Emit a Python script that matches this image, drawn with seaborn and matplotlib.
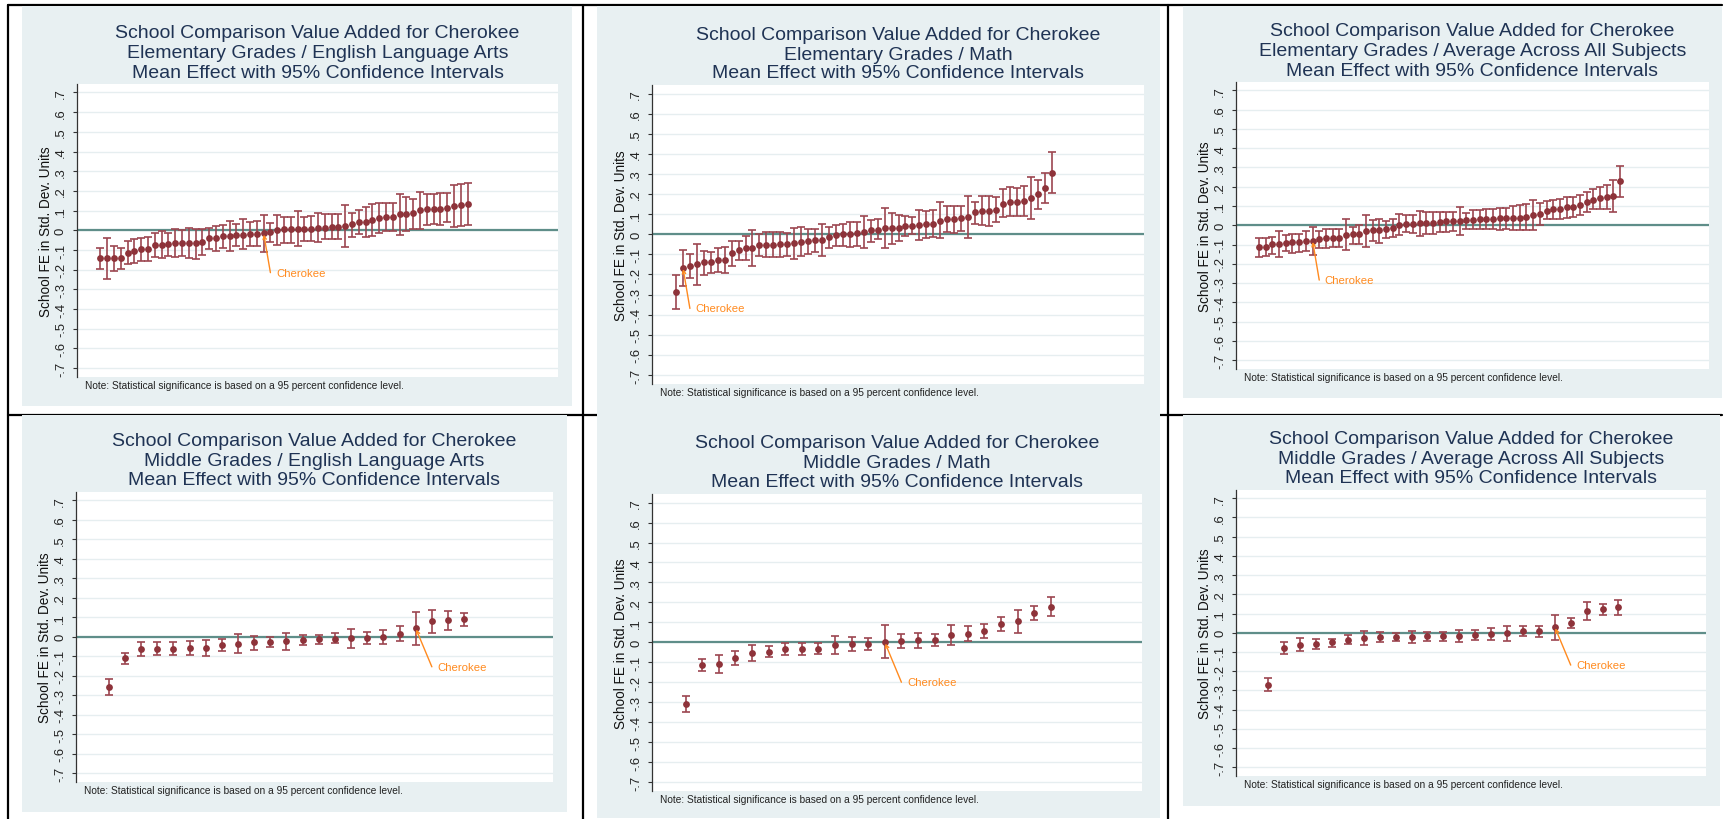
import numpy as np
import pandas as pd
import seaborn as sns
import matplotlib.pyplot as plt
from matplotlib.patches import Rectangle
from matplotlib.lines import Line2D

sns.set_theme(style='white')
plt.rcParams['font.family'] = ['Liberation Sans', 'DejaVu Sans']

# ---- data (estimate, lower CI, upper CI), schools sorted by effect ----
elem_ela_est = [-0.142, -0.142, -0.142, -0.142, -0.113, -0.105, -0.093, -0.093, -0.073, -0.073,
                -0.068, -0.063, -0.063, -0.063, -0.063, -0.059, -0.039, -0.039, -0.029, -0.029,
                -0.022, -0.022, -0.019, -0.017, -0.015, -0.008, 0.002, 0.005, 0.005, 0.008,
                0.008, 0.008, 0.014, 0.014, 0.019, 0.019, 0.022, 0.030, 0.042, 0.042,
                0.052, 0.064, 0.069, 0.069, 0.081, 0.085, 0.090, 0.103, 0.107, 0.107,
                0.107, 0.115, 0.124, 0.127, 0.132]
elem_ela_lo = [-0.198, -0.249, -0.206, -0.198, -0.173, -0.164, -0.156, -0.156, -0.134, -0.139,
               -0.130, -0.134, -0.130, -0.139, -0.144, -0.127, -0.096, -0.105, -0.088, -0.105,
               -0.080, -0.096, -0.080, -0.080, -0.108, -0.059, -0.076, -0.063, -0.063, -0.080,
               -0.054, -0.054, -0.058, -0.046, -0.042, -0.042, -0.083, -0.032, -0.020, -0.036,
               -0.029, -0.015, -0.003, -0.003, -0.022, -0.003, 0.008, 0.005, 0.027, 0.030,
               0.029, 0.042, 0.019, 0.022, 0.025]
elem_ela_hi = [-0.088, -0.037, -0.080, -0.088, -0.054, -0.046, -0.037, -0.032, -0.015, -0.003,
               -0.012, 0.008, 0.002, 0.014, 0.005, 0.008, 0.014, 0.022, 0.025, 0.047,
               0.030, 0.056, 0.042, 0.047, 0.078, 0.036, 0.076, 0.069, 0.069, 0.098,
               0.069, 0.073, 0.086, 0.081, 0.081, 0.081, 0.129, 0.086, 0.103, 0.120,
               0.132, 0.140, 0.140, 0.140, 0.183, 0.169, 0.157, 0.195, 0.186, 0.183,
               0.188, 0.188, 0.230, 0.233, 0.242]

elem_math_est = [-0.289, -0.166, -0.156, -0.148, -0.139, -0.139, -0.128, -0.128, -0.093, -0.076,
                 -0.066, -0.066, -0.053, -0.053, -0.053, -0.050, -0.050, -0.043, -0.037, -0.033,
                 -0.027, -0.027, -0.013, -0.003, 0.000, 0.000, 0.005, 0.013, 0.020, 0.023,
                 0.030, 0.030, 0.033, 0.043, 0.043, 0.047, 0.050, 0.050, 0.068, 0.075,
                 0.075, 0.080, 0.086, 0.110, 0.116, 0.116, 0.123, 0.151, 0.163, 0.163,
                 0.166, 0.181, 0.200, 0.231, 0.307]
elem_math_lo = [-0.372, -0.259, -0.219, -0.252, -0.203, -0.193, -0.186, -0.194, -0.156, -0.126,
                -0.126, -0.156, -0.110, -0.115, -0.115, -0.115, -0.106, -0.123, -0.110, -0.098,
                -0.086, -0.106, -0.070, -0.056, -0.060, -0.065, -0.056, -0.070, -0.037, -0.023,
                -0.070, -0.047, -0.032, -0.010, 0.002, -0.027, -0.020, -0.015, -0.020, 0.010,
                0.007, 0.018, -0.017, 0.051, 0.047, 0.043, 0.063, 0.085, 0.093, 0.093,
                0.090, 0.076, 0.126, 0.156, 0.206]
elem_math_hi = [-0.203, -0.076, -0.098, -0.048, -0.081, -0.090, -0.070, -0.065, -0.032, -0.032,
                -0.010, 0.023, 0.002, 0.010, 0.010, 0.010, 0.007, 0.030, 0.035, 0.027,
                0.027, 0.051, 0.038, 0.047, 0.051, 0.063, 0.063, 0.093, 0.073, 0.076,
                0.130, 0.106, 0.096, 0.093, 0.085, 0.123, 0.118, 0.121, 0.163, 0.140,
                0.140, 0.143, 0.189, 0.163, 0.189, 0.189, 0.184, 0.223, 0.234, 0.229,
                0.239, 0.284, 0.272, 0.306, 0.409]

elem_avg_est = [-0.112, -0.112, -0.098, -0.098, -0.090, -0.088, -0.088, -0.083, -0.079, -0.072,
                -0.067, -0.067, -0.064, -0.048, -0.047, -0.045, -0.029, -0.026, -0.026, -0.021,
                -0.014, 0.003, 0.007, 0.009, 0.010, 0.012, 0.012, 0.017, 0.021, 0.021,
                0.024, 0.029, 0.029, 0.031, 0.033, 0.034, 0.036, 0.038, 0.038, 0.040,
                0.045, 0.055, 0.060, 0.076, 0.083, 0.084, 0.093, 0.097, 0.105, 0.119,
                0.133, 0.140, 0.145, 0.150, 0.228]
elem_avg_lo = [-0.164, -0.159, -0.147, -0.164, -0.134, -0.141, -0.138, -0.134, -0.155, -0.117,
               -0.117, -0.112, -0.112, -0.129, -0.095, -0.095, -0.112, -0.083, -0.091, -0.066,
               -0.060, -0.052, -0.034, -0.038, -0.055, -0.043, -0.043, -0.034, -0.034, -0.031,
               -0.048, -0.017, -0.021, -0.021, -0.017, -0.021, -0.022, -0.017, -0.026, -0.026,
               -0.022, -0.026, 0.003, 0.034, 0.034, 0.031, 0.040, 0.043, 0.052, 0.069,
               0.083, 0.083, 0.083, 0.069, 0.147]
elem_avg_hi = [-0.066, -0.066, -0.060, -0.031, -0.048, -0.043, -0.043, -0.031, -0.009, -0.031,
               -0.017, -0.021, -0.017, 0.034, -0.009, 0.000, 0.052, 0.026, 0.034, 0.021,
               0.034, 0.060, 0.052, 0.052, 0.072, 0.069, 0.069, 0.069, 0.069, 0.069,
               0.095, 0.064, 0.078, 0.081, 0.083, 0.086, 0.090, 0.090, 0.100, 0.103,
               0.112, 0.133, 0.117, 0.124, 0.129, 0.138, 0.147, 0.147, 0.155, 0.172,
               0.190, 0.197, 0.207, 0.233, 0.307]

mid_ela_est = [-0.256, -0.111, -0.063, -0.062, -0.062, -0.058, -0.056, -0.041, -0.038, -0.029,
               -0.026, -0.024, -0.014, -0.012, -0.009, -0.007, -0.005, -0.003, 0.015, 0.044,
               0.082, 0.085, 0.091]
mid_ela_lo = [-0.299, -0.140, -0.097, -0.094, -0.094, -0.094, -0.096, -0.072, -0.085, -0.067,
              -0.051, -0.067, -0.043, -0.039, -0.034, -0.055, -0.038, -0.038, -0.024, -0.041,
              0.022, 0.036, 0.056]
mid_ela_hi = [-0.214, -0.085, -0.029, -0.029, -0.029, -0.021, -0.015, -0.009, 0.012, 0.005,
              0.000, 0.019, 0.010, 0.010, 0.019, 0.038, 0.027, 0.034, 0.055, 0.126,
              0.140, 0.132, 0.123]

mid_math_est = [-0.307, -0.113, -0.108, -0.077, -0.052, -0.047, -0.033, -0.033, -0.032, -0.013,
                -0.010, -0.008, 0.000, 0.008, 0.010, 0.013, 0.037, 0.043, 0.058, 0.092,
                0.105, 0.148, 0.178]
mid_math_lo = [-0.350, -0.142, -0.153, -0.112, -0.092, -0.075, -0.063, -0.062, -0.058, -0.058,
               -0.045, -0.038, -0.080, -0.027, -0.028, -0.020, -0.013, 0.005, 0.020, 0.055,
               0.047, 0.113, 0.130]
mid_math_hi = [-0.267, -0.083, -0.063, -0.045, -0.013, -0.020, -0.005, -0.005, -0.005, 0.033,
               0.025, 0.023, 0.087, 0.040, 0.045, 0.042, 0.087, 0.083, 0.093, 0.125,
               0.163, 0.182, 0.225]

mid_avg_est = [-0.269, -0.078, -0.063, -0.057, -0.050, -0.035, -0.028, -0.023, -0.023, -0.023,
               -0.017, -0.017, -0.016, -0.009, -0.007, -0.002, 0.009, 0.009, 0.030, 0.052,
               0.115, 0.122, 0.134]
mid_avg_lo = [-0.304, -0.108, -0.095, -0.082, -0.073, -0.059, -0.064, -0.050, -0.043, -0.054,
              -0.042, -0.042, -0.047, -0.035, -0.040, -0.042, -0.017, -0.021, -0.036, 0.023,
              0.066, 0.092, 0.095]
mid_avg_hi = [-0.234, -0.050, -0.026, -0.033, -0.030, -0.012, 0.009, 0.005, 0.000, 0.010,
              0.005, 0.005, 0.016, 0.017, 0.023, 0.035, 0.033, 0.038, 0.095, 0.078,
              0.158, 0.148, 0.170]

# position (1-based rank) of Cherokee and where its label sits
cherokee_rank = [25, 2, 9, 20, 13, 19]
label_anchor = [(26, -0.215), (3.0, -0.369), (10, -0.284), (21, -0.154), (14, -0.20), (20, -0.168)]

subtitles = ['Elementary Grades / English Language Arts', 'Elementary Grades / Math',
             'Elementary Grades / Average Across All Subjects',
             'Middle Grades / English Language Arts', 'Middle Grades / Math',
             'Middle Grades / Average Across All Subjects']
title_top = 'School Comparison Value Added for Cherokee'
title_bottom = 'Mean Effect with 95% Confidence Intervals'
ylabel = 'School FE in Std. Dev. Units'
note = 'Note: Statistical significance is based on a 95 percent confidence level.'

ytick_values = [-0.7, -0.6, -0.5, -0.4, -0.3, -0.2, -0.1, 0.0, 0.1, 0.2, 0.3, 0.4, 0.5, 0.6, 0.7]
ytick_labels = ['-.7', '-.6', '-.5', '-.4', '-.3', '-.2', '-.1', '0',
                '.1', '.2', '.3', '.4', '.5', '.6', '.7']

panels = [
    (elem_ela_est, elem_ela_lo, elem_ela_hi),
    (elem_math_est, elem_math_lo, elem_math_hi),
    (elem_avg_est, elem_avg_lo, elem_avg_hi),
    (mid_ela_est, mid_ela_lo, mid_ela_hi),
    (mid_math_est, mid_math_lo, mid_math_hi),
    (mid_avg_est, mid_avg_lo, mid_avg_hi),
]

# ---- layout in pixels (left, top, right, bottom) ----
W, H = 1732, 820
plot_boxes = [(77, 85, 558, 378), (652, 86, 1144, 385), (1236, 83, 1709, 370),
              (76, 493, 553, 783), (652, 495, 1142, 792), (1236, 491, 1706, 777)]
bg_boxes = [(22, 7, 572, 407), (597, 7, 1160, 420), (1183, 7, 1722, 399),
            (22, 416, 567, 813), (597, 410, 1160, 819), (1183, 416, 1720, 807)]

BG = '#E8F0F2'
MAROON = '#8E333A'
BAR = '#9C4650'
TEAL = '#5F8E89'
ORANGE = '#FF8A1F'
NAVY = '#1F3354'


def fig_rect(box):
    l, t, r, b = box
    return [l / W, 1 - b / H, (r - l) / W, (b - t) / H]


fig = plt.figure(figsize=(W / 100, H / 100), dpi=100)
fig.patch.set_facecolor('white')

# frame lines
px = lambda x: x / W
py = lambda y: 1 - y / H
for (x0, y0, x1, y1) in [(8, 6, 1722, 6), (8, 6, 8, 820), (583, 6, 583, 820),
                         (1168, 6, 1168, 820), (8, 416, 1722, 416)]:
    fig.add_artist(Line2D([px(x0), px(x1)], [py(y0), py(y1)], color='black', lw=1.6, zorder=-3))

for box in bg_boxes:
    l, b, w, h = fig_rect(box)
    fig.add_artist(Rectangle((l, b), w, h, transform=fig.transFigure, facecolor=BG,
                             edgecolor='none', zorder=-2))

for i, (est, lo, hi) in enumerate(panels):
    ax = fig.add_axes(fig_rect(plot_boxes[i]))
    ax.set_facecolor('white')
    n = len(est)
    df = pd.DataFrame({'rank': np.arange(1, n + 1), 'est': est, 'lo': lo, 'hi': hi})

    ax.axhline(0, color=TEAL, lw=1.6, zorder=1)
    ax.errorbar(df['rank'], df['est'], yerr=[df['est'] - df['lo'], df['hi'] - df['est']],
                fmt='none', ecolor=BAR, elinewidth=1.2, capsize=2.7, capthick=1.2, zorder=2)
    sns.scatterplot(data=df, x='rank', y='est', ax=ax, color=MAROON, s=24,
                    linewidth=0, zorder=3, legend=False)

    # Cherokee call-out
    cx = cherokee_rank[i]
    cy = est[cx - 1]
    tx, ty = label_anchor[i]
    ax.annotate('', xy=(cx, cy), xytext=(tx, ty),
                arrowprops=dict(arrowstyle='->', color=ORANGE, lw=1.0, mutation_scale=6,
                                shrinkA=0, shrinkB=1), zorder=4)
    ax.annotate('Cherokee', xy=(tx, ty), xytext=(4, 0), textcoords='offset points',
                ha='left', va='center', color=ORANGE, fontsize=8.2)

    if n > 30:
        ax.set_xlim(-2.45, 68.3)
    else:
        ax.set_xlim(-1.03, 28.5)
    ax.set_ylim(-0.745, 0.743)
    ax.set_yticks(ytick_values)
    ax.set_yticklabels(ytick_labels, rotation=90, va='center', fontsize=9.4, color='#222222')
    ax.set_xticks([])
    ax.set_xlabel('')
    ax.set_ylabel('')
    ax.tick_params(axis='y', length=3.2, width=0.8, color='#333333', pad=4.0, left=True)
    ax.yaxis.grid(True, color='#E6EEF0', lw=1.0)
    ax.set_axisbelow(True)
    for side in ['top', 'right', 'bottom']:
        ax.spines[side].set_visible(False)
    ax.spines['left'].set_color('#333333')
    ax.spines['left'].set_linewidth(0.9)

    ax.annotate(ylabel, xy=(0, 0.5), xycoords='axes fraction', xytext=(-22, 0),
                textcoords='offset points', rotation=90, ha='center', va='center',
                fontsize=9.8, color='#111111')

    lines = [title_top, subtitles[i], title_bottom]
    for k, off in enumerate([51, 31, 12]):
        ax.annotate(lines[k], xy=(0.5, 1), xycoords='axes fraction', xytext=(0, off * 0.72),
                    textcoords='offset points', ha='center', va='center',
                    fontsize=14, color=NAVY)

    ax.annotate(note, xy=(0, 0), xycoords='axes fraction', xytext=(8 * 0.72, -8 * 0.72),
                textcoords='offset points', ha='left', va='center', fontsize=7.3,
                color='#222222')

fig.savefig('out.png', dpi=100)
